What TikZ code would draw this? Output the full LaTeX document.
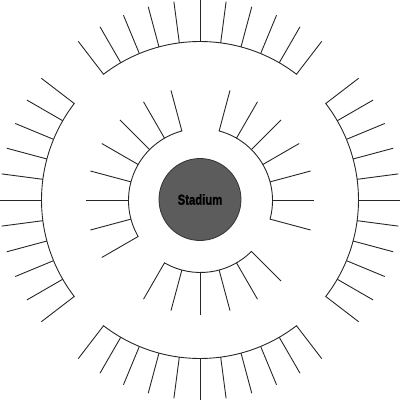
\documentclass[tikz,border=0pt]{standalone}
\usepackage{fontspec}
\setmainfont{Liberation Sans}
\newfontfamily\stadfont[FakeStretch=0.78,FakeBold=1.2]{Liberation Sans Bold}
\begin{document}
\begin{tikzpicture}[x=1pt,y=1pt,
  seat/.style={draw=black!85,line width=0.9pt,line join=miter},
  stad/.style={circle,draw=black!80,line width=0.8pt,fill=black!64,minimum size=82pt,inner sep=0pt}]
\useasboundingbox (-200,-200) rectangle (200,200);
\node[stad] (stadium) at (0,0.5) {\fontsize{14.5}{15}\stadfont Stadium};
% inner ring
\begin{scope}[shift={(0.5,-0.5)}]
\foreach \s/\e in {105/210,240/315,-15/75}
  \draw[seat] (\s:114) -- (\s:72) arc[start angle=\s,end angle=\e,radius=72] -- (\e:114);
\foreach \a in {120,135,...,195, 255,270,...,300, 0,15,...,60}
  \draw[seat] (\a:72) -- (\a:114);
\end{scope}
% outer ring
\foreach \c in {0,90,180,270}{
  \draw[seat] (\c-37.5:200) -- (\c-37.5:158.5) arc[start angle=\c-37.5,end angle=\c+37.5,radius=158.5] -- (\c+37.5:200);
  \foreach \k in {-30,-22.5,...,30}
    \draw[seat] (\c+\k:158.5) -- (\c+\k:200);
}
\end{tikzpicture}
\end{document}
